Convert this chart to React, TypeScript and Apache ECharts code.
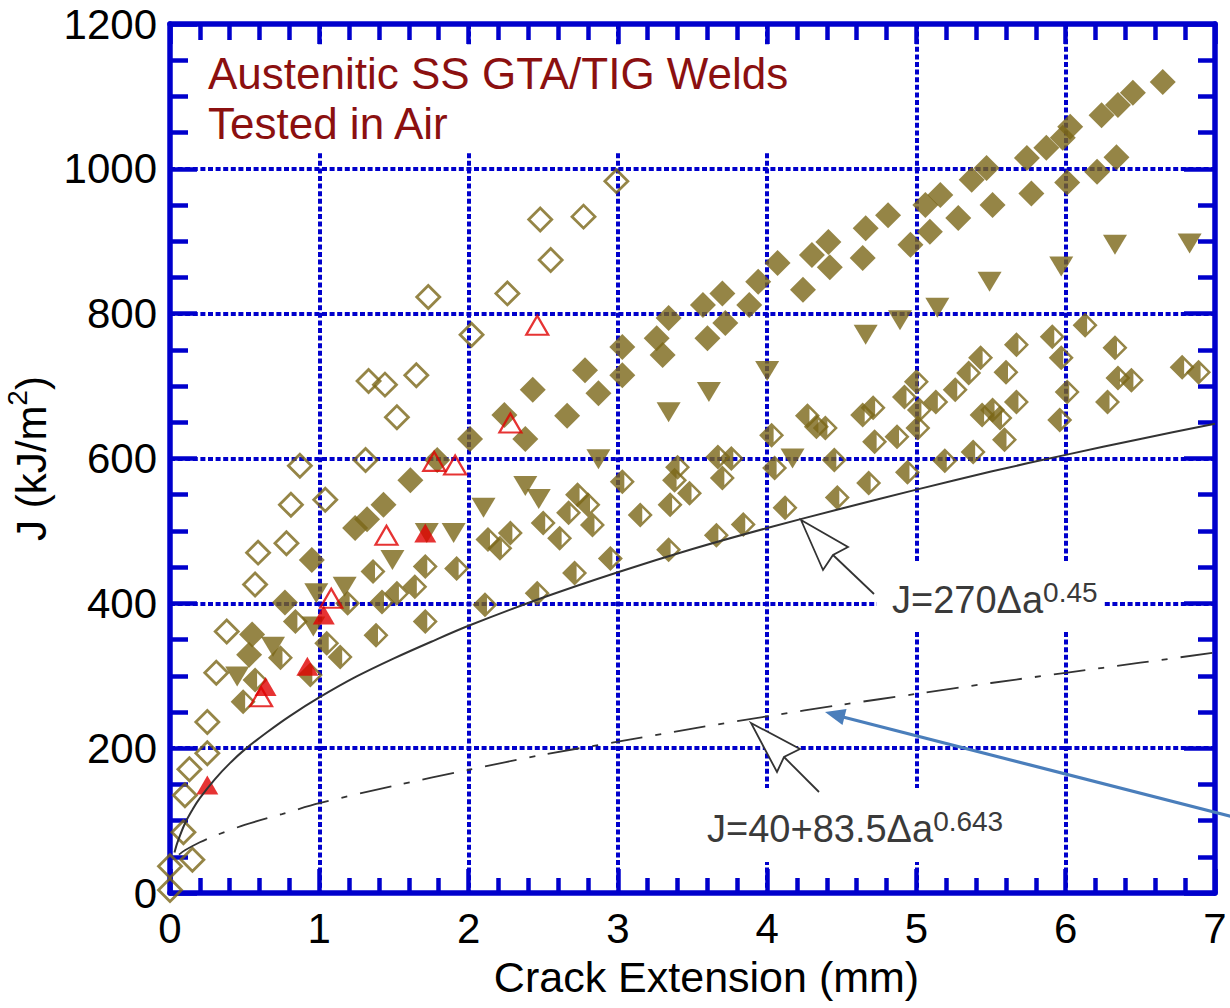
import React, { useEffect, useRef } from "react";
import * as echarts from "echarts";

// ---------- data (crack extension mm, J kJ/m2) ----------
const openDiamonds: number[][] = [
  [0, 4], [0, 37], [0.09, 84], [0.15, 46], [0.1, 135], [0.13, 171], [0.25, 193], [0.25, 236],
  [0.31, 304], [0.38, 361], [0.57, 426], [0.59, 470], [0.78, 483], [0.81, 536], [0.87, 590],
  [1.04, 543], [1.31, 598], [1.33, 707], [1.44, 702], [1.52, 657], [1.65, 715], [1.73, 823],
  [2.02, 771], [2.26, 828], [2.48, 930], [2.55, 874], [2.77, 934], [2.99, 983],
];

const halfDiamonds: number[][] = [
  [0.49, 264], [0.57, 294], [0.74, 325], [0.84, 375], [0.94, 301], [1.05, 345], [1.14, 326],
  [1.19, 400], [1.36, 444], [1.38, 356], [1.42, 402], [1.52, 414], [1.64, 423], [1.71, 451],
  [1.71, 375], [1.92, 448], [2.11, 398], [2.13, 488], [2.21, 476], [2.28, 497], [2.46, 414],
  [2.5, 511], [2.61, 490], [2.67, 525], [2.71, 442], [2.73, 550], [2.8, 536], [2.83, 508],
  [2.95, 462], [3.03, 568], [3.15, 522], [3.34, 474], [3.35, 536], [3.38, 570], [3.4, 588],
  [3.48, 552], [3.66, 494], [3.67, 602], [3.7, 573], [3.76, 600], [3.84, 509], [4.03, 632],
  [4.05, 587], [4.12, 532], [4.27, 659], [4.33, 644], [4.39, 642], [4.45, 598], [4.47, 546],
  [4.64, 660], [4.71, 670], [4.68, 566], [4.72, 623], [4.87, 630], [4.92, 685], [4.94, 581],
  [5.0, 706], [5.01, 642], [5.02, 667], [5.13, 678], [5.19, 597], [5.26, 695], [5.35, 718],
  [5.38, 609], [5.43, 739], [5.44, 660], [5.51, 667], [5.56, 656], [5.6, 719], [5.59, 626],
  [5.67, 678], [5.67, 757], [5.91, 768], [5.97, 739], [6.01, 692], [5.96, 653], [6.13, 784],
  [6.28, 678], [6.33, 753], [6.35, 711], [6.44, 708], [6.78, 726], [6.89, 719],
];

const filledDiamonds: number[][] = [
  [0.53, 329], [0.55, 357], [0.77, 401], [0.95, 460], [1.24, 504], [1.32, 516], [1.43, 536],
  [1.61, 570], [1.79, 598], [2.01, 627], [2.24, 660], [2.38, 627], [2.43, 695], [2.66, 659],
  [2.78, 722], [2.87, 690], [3.03, 754], [3.03, 715], [3.26, 766], [3.3, 743], [3.34, 794],
  [3.57, 812], [3.6, 766], [3.7, 828], [3.72, 787], [3.88, 812], [3.94, 844], [4.07, 870],
  [4.24, 833], [4.3, 881], [4.41, 899], [4.42, 864], [4.66, 918], [4.64, 877], [4.81, 936],
  [4.96, 895], [5.06, 950], [5.09, 913], [5.16, 964], [5.28, 932], [5.37, 985], [5.47, 1001],
  [5.51, 950], [5.74, 1015], [5.77, 966], [5.87, 1029], [5.98, 1043], [6.03, 1058], [6.01, 981],
  [6.21, 996], [6.24, 1074], [6.34, 1016], [6.35, 1088], [6.45, 1105], [6.65, 1120],
];

const downTriangles: number[][] = [
  [0.45, 299], [0.69, 340], [0.96, 368], [0.98, 414], [1.17, 423], [1.49, 460], [1.72, 497],
  [1.9, 497], [2.1, 532], [2.38, 562], [2.47, 544], [2.87, 599], [3.34, 664], [3.61, 692],
  [4.0, 721], [4.17, 600], [4.66, 771], [4.89, 791], [5.14, 808], [5.49, 844], [5.97, 865],
  [6.33, 895], [6.83, 897],
];

const redOpenTriangles: number[][] = [
  [0.61, 271], [1.08, 407], [1.45, 494], [1.77, 596], [1.91, 591], [2.28, 649], [2.46, 784],
];

const redFilledTriangles: number[][] = [
  [0.25, 149], [0.64, 285], [0.92, 313], [1.03, 384], [1.71, 497],
];

// J = 270 Δa^0.45 (solid curve)
const curveSolid: number[][] = [
  [0.03, 56], [0.05, 70], [0.1, 96], [0.15, 115], [0.2, 131], [0.3, 157], [0.4, 179], [0.5, 198],
  [0.65, 222], [0.8, 244], [1, 270], [1.25, 299], [1.5, 324], [1.75, 347], [2, 369], [2.5, 408],
  [3, 443], [3.5, 475], [4, 504], [4.5, 531], [5, 557], [5.5, 582], [6, 605], [6.5, 627], [7, 648],
];

// J = 40 + 83.5 Δa^0.643 (dash-dot curve)
const curveDashDot: number[][] = [
  [0.06, 53], [0.1, 59], [0.2, 70], [0.3, 79], [0.5, 94], [0.75, 109], [1, 124], [1.5, 148],
  [2, 170], [2.5, 191], [3, 209], [3.5, 227], [4, 244], [4.5, 260], [5, 275], [5.5, 290],
  [6, 304], [6.5, 318], [7, 332],
];

const X_MIN = 0;
const X_MAX = 7;
const X_STEP = 1;
const Y_MIN = 0;
const Y_MAX = 1200;
const Y_STEP = 200;

const TITLE_LINES = ["Austenitic SS GTA/TIG Welds", "Tested in Air"];
const X_NAME = "Crack Extension (mm)";

// ---------- styles ----------
const OLIVE = "#7b6718";
const RED = "#e00000";
const BLUE = "#0000cc";
const INK = "#333333";
const FONT = "'Liberation Sans', Arial, Helvetica, sans-serif";

const HALF_DIAMOND =
  "path://M0,-10L10,0L0,10L-10,0Z M1.6,-5.6L1.6,5.6L7.2,0Z";

export default function App() {
  const ref = useRef<HTMLDivElement>(null);

  useEffect(() => {
    if (!ref.current) return;
    const chart = echarts.init(ref.current, undefined, { renderer: "svg" });

    const axisLine = { show: true, onZero: false, lineStyle: { color: BLUE, width: 5.5 } };
    const gridLine = { show: true, lineStyle: { color: BLUE, width: 4, type: [5, 2.6] } };
    const tickStyle = { color: BLUE, width: 4.5 };
    const plain = (v: number) => String(v);

    const option: any = {
      animation: false,
      backgroundColor: "#ffffff",
      grid: { left: 170, right: 15, top: 24, bottom: 115, containLabel: false, outerBoundsMode: "none" },
      xAxis: [
        {
          type: "value",
          position: "bottom",
          min: X_MIN,
          max: X_MAX,
          interval: X_STEP,
          axisLine,
          axisTick: { show: true, inside: true, length: 24, lineStyle: tickStyle },
          minorTick: { show: true, splitNumber: 5, length: 15, lineStyle: tickStyle },
          splitLine: gridLine,
          axisLabel: { color: "#000", fontSize: 42, fontFamily: FONT, margin: 14, formatter: plain },
          name: X_NAME,
          nameLocation: "middle",
          nameGap: 62,
          nameTextStyle: {
            color: "#000",
            fontSize: 43,
            fontFamily: FONT,
            lineHeight: 43,
            padding: [0, 0, 0, 28],
          },
        },
        {
          type: "value",
          position: "top",
          min: X_MIN,
          max: X_MAX,
          interval: X_STEP,
          axisLine,
          axisTick: { show: true, inside: true, length: 20, lineStyle: tickStyle },
          minorTick: { show: true, splitNumber: 5, length: 16, lineStyle: tickStyle },
          splitLine: { show: false },
          axisLabel: { show: false },
        },
      ],
      yAxis: [
        {
          type: "value",
          position: "left",
          min: Y_MIN,
          max: Y_MAX,
          interval: Y_STEP,
          axisLine,
          axisTick: { show: true, inside: true, length: 27, lineStyle: tickStyle },
          minorTick: { show: true, splitNumber: 4, length: 18, lineStyle: tickStyle },
          splitLine: gridLine,
          axisLabel: { color: "#000", fontSize: 42, fontFamily: FONT, margin: 13, formatter: plain },
          name: "{a|J (kJ/m}{s|2}{a|)}",
          nameLocation: "middle",
          nameRotate: 90,
          nameGap: 88,
          nameTextStyle: {
            rich: {
              a: { fontSize: 42, fontFamily: FONT, color: "#000", lineHeight: 56 },
              s: { fontSize: 28, fontFamily: FONT, color: "#000", lineHeight: 28, verticalAlign: "top" },
            },
          },
        },
        {
          type: "value",
          position: "right",
          min: Y_MIN,
          max: Y_MAX,
          interval: Y_STEP,
          axisLine,
          axisTick: { show: true, inside: true, length: 31, lineStyle: tickStyle },
          minorTick: { show: true, splitNumber: 4, length: 17, lineStyle: tickStyle },
          splitLine: { show: false },
          axisLabel: { show: false },
        },
      ],
      series: [
        {
          name: "open",
          type: "scatter",
          data: openDiamonds,
          symbol: "diamond",
          symbolSize: 23,
          itemStyle: { color: "rgba(255,255,255,0)", borderColor: OLIVE, borderWidth: 2.8 },
          z: 2,
        },
        {
          name: "half",
          type: "scatter",
          data: halfDiamonds,
          symbol: HALF_DIAMOND,
          symbolSize: 25,
          itemStyle: { color: OLIVE },
          z: 2,
        },
        {
          name: "filled",
          type: "scatter",
          data: filledDiamonds,
          symbol: "diamond",
          symbolSize: 26,
          itemStyle: { color: OLIVE },
          z: 2,
        },
        {
          name: "down",
          type: "scatter",
          data: downTriangles,
          symbol: "triangle",
          symbolRotate: 180,
          symbolSize: [24, 20],
          itemStyle: { color: OLIVE },
          z: 2,
        },
        {
          name: "redOpen",
          type: "scatter",
          data: redOpenTriangles,
          symbol: "triangle",
          symbolSize: [22, 19],
          itemStyle: { color: "rgba(255,255,255,0)", borderColor: RED, borderWidth: 2.2 },
          z: 3,
        },
        {
          name: "redFilled",
          type: "scatter",
          data: redFilledTriangles,
          symbol: "triangle",
          symbolSize: [22, 19],
          itemStyle: { color: RED },
          z: 3,
        },
        {
          name: "J=270Δa^0.45",
          type: "line",
          data: curveSolid,
          showSymbol: false,
          smooth: 0.3,
          lineStyle: { color: INK, width: 2 },
          z: 4,
        },
        {
          name: "J=40+83.5Δa^0.643",
          type: "line",
          data: curveDashDot,
          showSymbol: false,
          smooth: 0.3,
          lineStyle: { color: INK, width: 1.8, type: [32, 13, 6, 13] },
          z: 4,
        },
      ],
      graphic: [
        // white backing boxes behind the in-plot texts (they interrupt the grid)
        { type: "rect", z: 1, silent: true, shape: { x: 200, y: 46, width: 610, height: 105 }, style: { fill: "#fff" } },
        { type: "rect", z: 1, silent: true, shape: { x: 877, y: 563, width: 226, height: 67 }, style: { fill: "#fff" } },
        { type: "rect", z: 1, silent: true, shape: { x: 700, y: 788, width: 312, height: 74 }, style: { fill: "#fff" } },
        {
          type: "text",
          z: 10,
          x: 208,
          y: 48,
          style: {
            text: TITLE_LINES.join("\n"),
            fill: "#8b1010",
            fontSize: 44,
            fontFamily: FONT,
            lineHeight: 50,
            align: "left",
            verticalAlign: "top",
          },
        },
        {
          type: "text",
          z: 10,
          x: 892,
          y: 578,
          style: {
            text: "{m|J=270Δa}{s|0.45}",
            align: "left",
            verticalAlign: "top",
            rich: {
              m: { fontSize: 38, fontFamily: FONT, fill: "#3a3a3a", lineHeight: 44 },
              s: { fontSize: 28, fontFamily: FONT, fill: "#3a3a3a", lineHeight: 28, verticalAlign: "top" },
            },
          },
        },
        {
          type: "text",
          z: 10,
          x: 707,
          y: 807,
          style: {
            text: "{m|J=40+83.5Δa}{s|0.643}",
            align: "left",
            verticalAlign: "top",
            rich: {
              m: { fontSize: 38, fontFamily: FONT, fill: "#3a3a3a", lineHeight: 44 },
              s: { fontSize: 28, fontFamily: FONT, fill: "#3a3a3a", lineHeight: 28, verticalAlign: "top" },
            },
          },
        },
        // hollow pointer arrows
        { type: "line", z: 11, shape: { x1: 833, y1: 555, x2: 874, y2: 594 }, style: { stroke: INK, lineWidth: 1.8 } },
        {
          type: "polygon",
          z: 12,
          shape: { points: [[801, 520], [848, 547], [833, 555], [823, 570]] },
          style: { fill: "#fff", stroke: INK, lineWidth: 1.8 },
        },
        { type: "line", z: 11, shape: { x1: 784, y1: 757, x2: 819, y2: 792 }, style: { stroke: INK, lineWidth: 1.8 } },
        {
          type: "polygon",
          z: 12,
          shape: { points: [[751, 723], [800, 749], [784, 757], [777, 772]] },
          style: { fill: "#fff", stroke: INK, lineWidth: 1.8 },
        },
        // blue callout arrow
        { type: "line", z: 13, shape: { x1: 1245, y1: 820, x2: 843, y2: 717 }, style: { stroke: "#4a7ebb", lineWidth: 3.2 } },
        {
          type: "polygon",
          z: 13,
          shape: { points: [[825, 712], [846.5, 709], [842.5, 725]] },
          style: { fill: "#4a7ebb" },
        },
      ],
    };

    chart.setOption(option);
    return () => chart.dispose();
  }, []);

  return (
    <div
      ref={ref}
      style={{ position: "absolute", left: 0, top: 0, width: 1230, height: 1008, background: "#fff" }}
    />
  );
}
